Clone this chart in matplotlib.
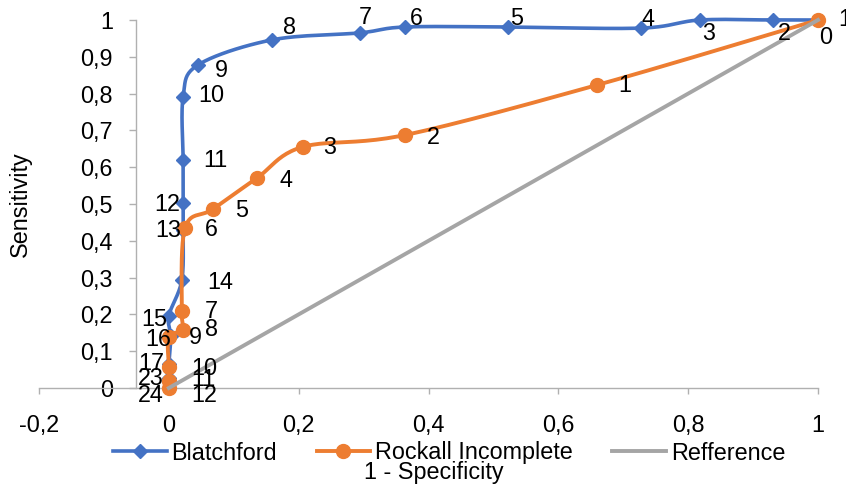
import numpy as np
import matplotlib
matplotlib.use("Agg")
import matplotlib.pyplot as plt

# ---------------- data ----------------
blatch_x = [1.0, 0.931, 0.818, 0.727, 0.522, 0.364, 0.294, 0.159, 0.045, 0.022,
            0.022, 0.022, 0.022, 0.02, 0.0, 0.003, 0.0, 0.0, 0.0]
blatch_y = [1.0, 1.0, 1.0, 0.978, 0.981, 0.981, 0.965, 0.946, 0.878, 0.791,
            0.62, 0.503, 0.43, 0.293, 0.196, 0.14, 0.065, 0.027, 0.0]
blatch_labels = ['1', '2', '3', '4', '5', '6', '7', '8', '9', '10',
                 '11', '12', '13', '14', '15', '16', '17', '23', '24']

rockall_x = [1.0, 0.659, 0.364, 0.206, 0.136, 0.068, 0.025, 0.02, 0.022, 0.0, 0.0, 0.0, 0.0]
rockall_y = [1.0, 0.823, 0.6875, 0.655, 0.571, 0.486, 0.435, 0.209, 0.158, 0.139, 0.057, 0.02, 0.0]
rockall_labels = ['0', '1', '2', '3', '4', '5', '6', '7', '8', '9', '10', '11', '12']

ref_x = [0.0, 1.0]
ref_y = [0.0, 1.0]

x_ticks = [-0.2, 0.0, 0.2, 0.4, 0.6, 0.8, 1.0]
x_ticklabels = ['-0,2', '0', '0,2', '0,4', '0,6', '0,8', '1']
y_ticks = [0.0, 0.1, 0.2, 0.3, 0.4, 0.5, 0.6, 0.7, 0.8, 0.9, 1.0]
y_ticklabels = ['0', '0,1', '0,2', '0,3', '0,4', '0,5', '0,6', '0,7', '0,8', '0,9', '1']

series_names = ['Blatchford', 'Rockall Incomplete', 'Refference']
x_title = '1 - Specificity'
y_title = 'Sensitivity'

# ---------------- label placement (style) ----------------
blatch_lab_pos = [('left', 20, 1), ('center', 11, -14), ('center', 9, -14), ('center', 7, 9),
                  ('center', 9, 8), ('center', 11, 8), ('center', 6, 15), ('center', 17, 12),
                  ('center', 23, -6), ('left', 15, 1), ('left', 20, -1), ('right', -3, -2),
                  ('right', -2, -1), ('left', 25, -2), ('right', -2, -4), ('right', 0, -3),
                  ('right', -5, 1), ('right', -5, 0), ('right', -5, -7)]
rock_lab_pos = [('center', 8, -18), ('left', 22, 0), ('left', 22, -2), ('left', 21, -1),
                ('left', 22, -3), ('left', 22, -1), ('left', 20, -2), ('left', 23, 0),
                ('left', 22, 0), ('left', 20, -1), ('left', 22, -1), ('left', 22, 1),
                ('left', 22, -8)]

BLUE = '#4472C4'
ORANGE = '#ED7D31'
GRAY = '#A5A5A5'
AXIS = '#B0B0B0'
FS = 16.8

plt.rcParams['font.family'] = ['Liberation Sans', 'DejaVu Sans']

W, H = 846, 487
fig = plt.figure(figsize=(W / 100, H / 100), dpi=100)
x0, x1, yt, yb = 39, 818, 20, 388
ax = fig.add_axes([x0 / W, 1 - yb / H, (x1 - x0) / W, (yb - yt) / H])
ax.set_xlim(-0.2, 1.0)
ax.set_ylim(0.0, 1.0)


def smooth(xs, ys):
    pts = ax.transData.transform(np.column_stack([xs, ys]))
    n = len(pts)
    out = [pts[0]]
    t = np.linspace(0, 1, 24)[1:, None]
    for i in range(n - 1):
        p0 = pts[i - 1] if i > 0 else pts[i]
        p1 = pts[i]
        p2 = pts[i + 1]
        p3 = pts[i + 2] if i + 2 < n else pts[i + 1]
        c1 = p1 + (p2 - p0) / 6.0
        c2 = p2 - (p3 - p1) / 6.0
        seg = (1 - t) ** 3 * p1 + 3 * (1 - t) ** 2 * t * c1 + 3 * (1 - t) * t ** 2 * c2 + t ** 3 * p2
        out.extend(seg)
    out = np.array(out)
    return ax.transData.inverted().transform(out)


# Blatchford
sb = smooth(blatch_x, blatch_y)
ax.plot(sb[:, 0], sb[:, 1], color=BLUE, lw=2.6, clip_on=False, zorder=3, solid_capstyle='round')
ax.plot(blatch_x, blatch_y, ls='none', marker='D', ms=6.8, color=BLUE, mec=BLUE,
        clip_on=False, zorder=3.1)
# Rockall
sr = smooth(rockall_x, rockall_y)
ax.plot(sr[:, 0], sr[:, 1], color=ORANGE, lw=2.8, clip_on=False, zorder=4, solid_capstyle='round')
ax.plot(rockall_x, rockall_y, ls='none', marker='o', ms=10, color=ORANGE, mec=ORANGE,
        clip_on=False, zorder=4.1)
# Reference
ax.plot(ref_x, ref_y, color=GRAY, lw=2.8, clip_on=False, zorder=5)

for xv, yv, lab, (ha, dx, dy) in zip(blatch_x, blatch_y, blatch_labels, blatch_lab_pos):
    ax.annotate(lab, (xv, yv), xytext=(dx, dy), textcoords='offset pixels',
                ha=ha, va='center', fontsize=FS, color='black', zorder=6,
                annotation_clip=False)
for xv, yv, lab, (ha, dx, dy) in zip(rockall_x, rockall_y, rockall_labels, rock_lab_pos):
    ax.annotate(lab, (xv, yv), xytext=(dx, dy), textcoords='offset pixels',
                ha=ha, va='center', fontsize=FS, color='black', zorder=6,
                annotation_clip=False)

# axes styling
for s in ['top', 'right']:
    ax.spines[s].set_visible(False)
ax.spines['left'].set_position(('data', -0.05))
ax.spines['left'].set_color(AXIS)
ax.spines['bottom'].set_color(AXIS)
ax.spines['left'].set_linewidth(1.0)
ax.spines['bottom'].set_linewidth(1.0)
ax.set_xticks(x_ticks)
ax.set_xticklabels(x_ticklabels)
ax.set_yticks(y_ticks)
ax.set_yticklabels(y_ticklabels)
ax.tick_params(axis='x', direction='out', length=4.5, width=1.0, color=AXIS, pad=14,
               labelsize=FS)
ax.tick_params(axis='y', direction='out', length=5, width=1.0, color=AXIS, pad=12,
               labelsize=FS)
ax.patch.set_visible(False)

# legend
h1, = ax.plot([], [], color=BLUE, lw=2.6, marker='D', ms=6.8)
h2, = ax.plot([], [], color=ORANGE, lw=2.8, marker='o', ms=10)
h3, = ax.plot([], [], color=GRAY, lw=2.8)
fig.legend([h1, h2, h3], series_names, loc='center', bbox_to_anchor=(449 / W, 1 - 453 / H),
           ncol=3, frameon=False, fontsize=FS, handlelength=2.3, handletextpad=0.2,
           columnspacing=1.7, borderpad=0, borderaxespad=0)

fig.text(434 / W, 1 - 472 / H, x_title, ha='center', va='center', fontsize=FS)
fig.text(20 / W, 1 - 204 / H, y_title, ha='center', va='center', rotation=90, fontsize=FS)

fig.savefig('out.png', dpi=100)
